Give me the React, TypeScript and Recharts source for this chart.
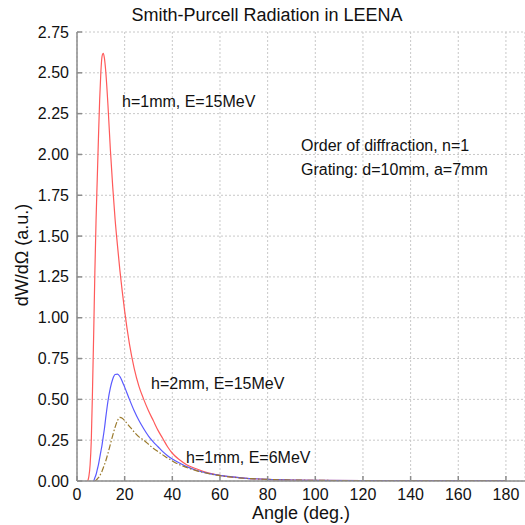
import React from 'react';
import { LineChart, Line, XAxis, YAxis, CartesianGrid } from 'recharts';

// Angle samples (degrees)
const angles = [
  0, 4, 4.5, 5, 5.5, 6, 6.5, 7, 7.5, 8, 8.5, 9, 9.5, 10, 10.5, 11, 11.5, 12, 13, 14, 15, 16, 17, 18, 19, 20,
  22, 24, 26, 28, 30, 32, 34, 36, 38, 40, 43, 46, 50, 55, 60, 70, 80, 90, 100, 120, 140, 160, 180,
];

// h=1mm, E=15MeV (red)
const redValues = [
  null, null, 0, 0.03, 0.1, 0.25, 0.55, 0.9, 1.28, 1.6, 1.85, 2.1, 2.33, 2.5, 2.6, 2.62, 2.59, 2.52, 2.3, 2.03, 1.8, 1.6, 1.44, 1.29, 1.16, 1.04,
  0.84, 0.69, 0.58, 0.5, 0.43, 0.37, 0.31, 0.26, 0.21, 0.17, 0.13, 0.1, 0.075, 0.05, 0.035, 0.018, 0.01, 0.006, 0.004, 0.002, 0.001, 0.0005, 0.0003,
];

// h=2mm, E=15MeV (blue)
const blueValues = [
  null, null, null, null, null, null, null, 0, 0.02, 0.04, 0.07, 0.1, 0.14, 0.18, 0.22, 0.27, 0.32, 0.38, 0.49, 0.57, 0.625, 0.652, 0.655, 0.64, 0.61, 0.575,
  0.5, 0.43, 0.37, 0.32, 0.275, 0.24, 0.21, 0.18, 0.155, 0.135, 0.11, 0.088, 0.066, 0.047, 0.034, 0.018, 0.01, 0.006, 0.004, 0.002, 0.001, 0.0005, 0.0003,
];

// h=1mm, E=6MeV (brown, dash-dot)
const brownValues = [
  null, null, null, null, null, null, null, null, 0, 0.005, 0.012, 0.02, 0.03, 0.045, 0.06, 0.08, 0.1, 0.12, 0.17, 0.225, 0.28, 0.33, 0.37, 0.39, 0.385, 0.37,
  0.335, 0.3, 0.27, 0.25, 0.225, 0.2, 0.18, 0.16, 0.14, 0.123, 0.1, 0.083, 0.064, 0.046, 0.033, 0.017, 0.01, 0.006, 0.004, 0.002, 0.001, 0.0005, 0.0003,
];

const xTicks = [0, 20, 40, 60, 80, 100, 120, 140, 160, 180];
const yTicks = [0, 0.25, 0.5, 0.75, 1.0, 1.25, 1.5, 1.75, 2.0, 2.25, 2.5, 2.75];

const data = angles.map((a, i) => ({
  angle: a,
  red: redValues[i],
  blue: blueValues[i],
  brown: brownValues[i],
}));

const FONT = '"Liberation Sans", Arial, Helvetica, sans-serif';
const AXIS = '#8c8c8c';
const TEXT = '#111';

const BottomTick = (props: any) => {
  const { x, y, payload } = props;
  return (
    <g>
      <line x1={x} x2={x} y1={y} y2={y - 5} stroke={AXIS} strokeWidth={1.5} />
      <text x={x} y={y + 13} textAnchor="middle" dominantBaseline="central" fontSize={16} fill={TEXT} fontFamily={FONT}>
        {payload.value}
      </text>
    </g>
  );
};

const TopTick = (props: any) => {
  const { x, y } = props;
  return <line x1={x} x2={x} y1={y} y2={y + 5} stroke={AXIS} strokeWidth={1.5} />;
};

const LeftTick = (props: any) => {
  const { x, y, payload } = props;
  return (
    <g>
      <line x1={x} x2={x + 5} y1={y} y2={y} stroke={AXIS} strokeWidth={1.5} />
      <text x={x - 8} y={y} textAnchor="end" dominantBaseline="central" fontSize={16} fill={TEXT} fontFamily={FONT}>
        {Number(payload.value).toFixed(2)}
      </text>
    </g>
  );
};

export default function App() {
  return (
    <div style={{ position: 'absolute', left: 0, top: 0, width: 525, height: 525, overflow: 'hidden', background: '#fff' }}>
      <LineChart
        width={525}
        height={525}
        data={data}
        margin={{ top: 32, right: 0, bottom: 0, left: 17 }}
      >
        <CartesianGrid stroke="#c8c8c8" strokeDasharray="2 2" xAxisId={0} yAxisId={0} />
        <XAxis
          xAxisId={0}
          dataKey="angle"
          type="number"
          domain={[0, 188]}
          ticks={xTicks}
          allowDataOverflow
          height={44}
          tickSize={0}
          tickMargin={0}
          tickLine={false}
          axisLine={{ stroke: AXIS, strokeWidth: 1.5 }}
          tick={<BottomTick />}
          interval={0}
        />
        <XAxis
          xAxisId="top"
          orientation="top"
          dataKey="angle"
          type="number"
          domain={[0, 188]}
          ticks={xTicks}
          allowDataOverflow
          height={0}
          tickSize={0}
          tickMargin={0}
          tickLine={false}
          axisLine={{ stroke: AXIS, strokeWidth: 1.5 }}
          tick={<TopTick />}
          interval={0}
        />
        <YAxis
          yAxisId={0}
          type="number"
          domain={[0, 2.75]}
          ticks={yTicks}
          allowDataOverflow
          width={60}
          tickSize={0}
          tickMargin={0}
          tickLine={false}
          axisLine={{ stroke: AXIS, strokeWidth: 1.5 }}
          tick={<LeftTick />}
          interval={0}
        />
        <Line xAxisId={0} yAxisId={0} type="monotone" dataKey="red" stroke="#ff5a5a" strokeWidth={1.2} dot={false} isAnimationActive={false} />
        <Line xAxisId={0} yAxisId={0} type="monotone" dataKey="blue" stroke="#5a5aff" strokeWidth={1.2} dot={false} isAnimationActive={false} />
        <Line xAxisId={0} yAxisId={0} type="monotone" dataKey="brown" stroke="#9a7a2c" strokeWidth={1.2} strokeDasharray="6 2 1.5 2" dot={false} isAnimationActive={false} />
      </LineChart>
      <svg width={525} height={525} style={{ position: 'absolute', left: 0, top: 0, pointerEvents: 'none' }}>
        <g fontFamily={FONT} fill={TEXT}>
          <text x={267} y={15} textAnchor="middle" dominantBaseline="central" fontSize={18}>Smith-Purcell Radiation in LEENA</text>
          <text x={301} y={513} textAnchor="middle" dominantBaseline="central" fontSize={18}>Angle (deg.)</text>
          <text x={22} y={255} textAnchor="middle" dominantBaseline="central" fontSize={18} transform="rotate(-90 22 255)">dW/dΩ (a.u.)</text>
          <text x={122} y={101} dominantBaseline="central" fontSize={16}>h=1mm, E=15MeV</text>
          <text x={301} y={145} dominantBaseline="central" fontSize={16}>Order of diffraction, n=1</text>
          <text x={301} y={169} dominantBaseline="central" fontSize={16}>Grating: d=10mm, a=7mm</text>
          <text x={151} y={383} dominantBaseline="central" fontSize={16}>h=2mm, E=15MeV</text>
          <text x={186} y={457} dominantBaseline="central" fontSize={16}>h=1mm, E=6MeV</text>
        </g>
      </svg>
    </div>
  );
}
